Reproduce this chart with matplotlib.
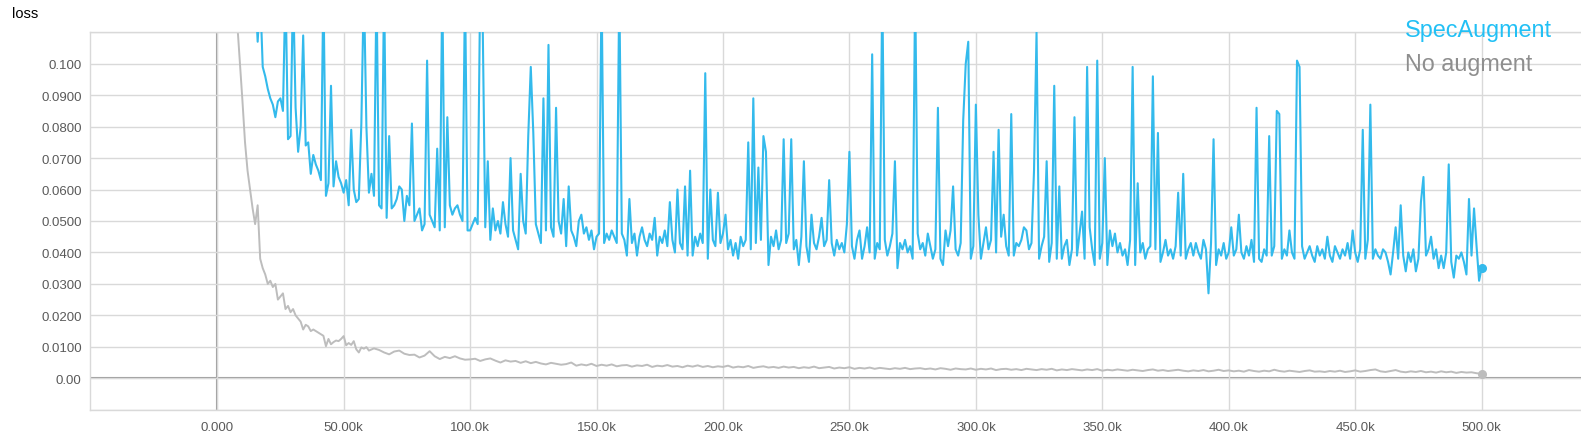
import numpy as np
import matplotlib.pyplot as plt
from matplotlib.patches import Circle

# === data
# SpecAugment: one value every 1k steps, from 15k to 500k
spec_first_step = 15000
spec_loss = [
    0.125, 0.107, 0.122, 0.099, 0.096, 0.092, 0.089, 0.087, 0.083, 0.088,
    0.089, 0.085, 0.125, 0.076, 0.077, 0.125, 0.086, 0.072, 0.080, 0.109,
    0.074, 0.075, 0.065, 0.071, 0.068, 0.066, 0.063, 0.125, 0.058, 0.062,
    0.093, 0.061, 0.069, 0.064, 0.062, 0.059, 0.063, 0.055, 0.079, 0.060,
    0.056, 0.057, 0.081, 0.125, 0.080, 0.059, 0.065, 0.058, 0.125, 0.055,
    0.054, 0.125, 0.051, 0.077, 0.054, 0.055, 0.057, 0.061, 0.060, 0.050,
    0.058, 0.055, 0.081, 0.050, 0.052, 0.054, 0.047, 0.049, 0.101, 0.052,
    0.050, 0.048, 0.073, 0.047, 0.125, 0.048, 0.083, 0.055, 0.052, 0.054,
    0.055, 0.052, 0.050, 0.125, 0.047, 0.047, 0.049, 0.051, 0.049, 0.125,
    0.112, 0.048, 0.069, 0.044, 0.054, 0.047, 0.050, 0.046, 0.056, 0.049,
    0.045, 0.070, 0.047, 0.044, 0.041, 0.065, 0.050, 0.046, 0.077, 0.099,
    0.078, 0.049, 0.046, 0.043, 0.089, 0.047, 0.106, 0.048, 0.045, 0.086,
    0.050, 0.046, 0.057, 0.042, 0.061, 0.047, 0.045, 0.042, 0.050, 0.052,
    0.046, 0.048, 0.044, 0.047, 0.041, 0.045, 0.046, 0.125, 0.043, 0.046,
    0.044, 0.047, 0.045, 0.043, 0.125, 0.046, 0.044, 0.039, 0.057, 0.043,
    0.046, 0.039, 0.045, 0.048, 0.044, 0.042, 0.046, 0.044, 0.051, 0.039,
    0.045, 0.043, 0.047, 0.042, 0.056, 0.044, 0.040, 0.060, 0.043, 0.041,
    0.061, 0.039, 0.066, 0.039, 0.045, 0.042, 0.046, 0.043, 0.097, 0.038,
    0.060, 0.044, 0.042, 0.059, 0.043, 0.046, 0.052, 0.041, 0.044, 0.039,
    0.043, 0.038, 0.045, 0.042, 0.044, 0.075, 0.041, 0.089, 0.043, 0.067,
    0.044, 0.077, 0.072, 0.036, 0.045, 0.042, 0.047, 0.041, 0.044, 0.076,
    0.043, 0.046, 0.076, 0.041, 0.044, 0.036, 0.045, 0.069, 0.042, 0.037,
    0.052, 0.043, 0.041, 0.045, 0.051, 0.042, 0.044, 0.063, 0.043, 0.039,
    0.044, 0.041, 0.043, 0.040, 0.049, 0.072, 0.042, 0.038, 0.044, 0.047,
    0.038, 0.042, 0.048, 0.040, 0.103, 0.038, 0.043, 0.041, 0.125, 0.044,
    0.039, 0.042, 0.046, 0.069, 0.035, 0.043, 0.041, 0.044, 0.040, 0.042,
    0.038, 0.125, 0.046, 0.041, 0.043, 0.039, 0.046, 0.042, 0.038, 0.041,
    0.086, 0.038, 0.036, 0.047, 0.042, 0.047, 0.061, 0.041, 0.039, 0.043,
    0.082, 0.100, 0.107, 0.038, 0.042, 0.087, 0.052, 0.038, 0.043, 0.048,
    0.041, 0.044, 0.072, 0.040, 0.079, 0.045, 0.052, 0.042, 0.039, 0.084,
    0.039, 0.043, 0.042, 0.044, 0.048, 0.047, 0.041, 0.043, 0.066, 0.110,
    0.038, 0.042, 0.045, 0.069, 0.037, 0.043, 0.093, 0.038, 0.061, 0.038,
    0.042, 0.044, 0.036, 0.041, 0.083, 0.039, 0.046, 0.053, 0.038, 0.099,
    0.048, 0.041, 0.036, 0.101, 0.038, 0.043, 0.070, 0.036, 0.047, 0.042,
    0.046, 0.040, 0.043, 0.039, 0.041, 0.036, 0.044, 0.099, 0.036, 0.062,
    0.040, 0.043, 0.038, 0.041, 0.042, 0.096, 0.041, 0.078, 0.037, 0.040,
    0.044, 0.039, 0.041, 0.038, 0.042, 0.059, 0.039, 0.065, 0.038, 0.041,
    0.043, 0.039, 0.043, 0.040, 0.038, 0.044, 0.041, 0.027, 0.043, 0.076,
    0.036, 0.041, 0.039, 0.043, 0.038, 0.040, 0.048, 0.039, 0.041, 0.052,
    0.040, 0.038, 0.042, 0.039, 0.044, 0.037, 0.086, 0.038, 0.037, 0.041,
    0.039, 0.077, 0.039, 0.042, 0.085, 0.084, 0.038, 0.041, 0.039, 0.047,
    0.040, 0.038, 0.101, 0.099, 0.042, 0.038, 0.040, 0.042, 0.039, 0.037,
    0.042, 0.039, 0.041, 0.038, 0.045, 0.039, 0.037, 0.042, 0.040, 0.038,
    0.041, 0.039, 0.043, 0.038, 0.047, 0.040, 0.037, 0.041, 0.079, 0.038,
    0.044, 0.087, 0.038, 0.041, 0.039, 0.038, 0.041, 0.040, 0.037, 0.033,
    0.040, 0.048, 0.038, 0.055, 0.039, 0.034, 0.040, 0.037, 0.041, 0.034,
    0.038, 0.056, 0.064, 0.039, 0.041, 0.045, 0.038, 0.041, 0.035, 0.039,
    0.035, 0.040, 0.068, 0.037, 0.032, 0.039, 0.038, 0.040, 0.037, 0.033,
    0.057, 0.039, 0.054, 0.042, 0.031, 0.035,
]

# No augment: every 1k steps from 7k to 60k, then every 2k steps up to 500k
noaug_loss_early = [
    0.140, 0.112, 0.100, 0.088, 0.075, 0.066, 0.060, 0.054, 0.049, 0.055,
    0.038, 0.035, 0.033, 0.030, 0.031, 0.029, 0.030, 0.025, 0.026, 0.027,
    0.022, 0.023, 0.021, 0.022, 0.020, 0.019, 0.018, 0.0155, 0.017, 0.0165,
    0.015, 0.0155, 0.015, 0.0145, 0.014, 0.0135, 0.0102, 0.0125, 0.0108, 0.0115,
    0.012, 0.0118, 0.0125, 0.0134, 0.0105, 0.0112, 0.0106, 0.0118, 0.0092, 0.0082,
    0.0098, 0.0094, 0.0099, 0.0088,
]
noaug_loss_late = [
    0.0095, 0.0090, 0.0082, 0.0076, 0.0085, 0.0088, 0.0078, 0.0074, 0.0075, 0.0066,
    0.0072, 0.0086, 0.0070, 0.0061, 0.0068, 0.0064, 0.0070, 0.0063, 0.0059, 0.0060,
    0.0062, 0.0055, 0.0060, 0.0063, 0.0056, 0.0050, 0.0057, 0.0053, 0.0055, 0.0049,
    0.0054, 0.0048, 0.0052, 0.0047, 0.0044, 0.0049, 0.0046, 0.0043, 0.0045, 0.0050,
    0.0040, 0.0044, 0.0041, 0.0046, 0.0039, 0.0043, 0.0040, 0.0044, 0.0038, 0.0041,
    0.0042, 0.0037, 0.0041, 0.0039, 0.0043, 0.0036, 0.0040, 0.0038, 0.0042, 0.0037,
    0.0039, 0.0035, 0.0040, 0.0037, 0.0041, 0.0036, 0.0039, 0.0035, 0.0038, 0.0036,
    0.0040, 0.0034, 0.0037, 0.0035, 0.0039, 0.0033, 0.0036, 0.0038, 0.0034, 0.0036,
    0.0033, 0.0037, 0.0034, 0.0036, 0.0032, 0.0035, 0.0033, 0.0037, 0.0032, 0.0034,
    0.0036, 0.0031, 0.0034, 0.0032, 0.0035, 0.0030, 0.0033, 0.0031, 0.0034, 0.0030,
    0.0033, 0.0031, 0.0029, 0.0032, 0.0030, 0.0033, 0.0029, 0.0031, 0.0032, 0.0029,
    0.0031, 0.0028, 0.0032, 0.0030, 0.0027, 0.0031, 0.0029, 0.0028, 0.0031, 0.0027,
    0.0030, 0.0028, 0.0031, 0.0026, 0.0029, 0.0030, 0.0027, 0.0029, 0.0026, 0.0030,
    0.0028, 0.0026, 0.0029, 0.0027, 0.0030, 0.0025, 0.0028, 0.0026, 0.0029, 0.0027,
    0.0025, 0.0028, 0.0026, 0.0029, 0.0024, 0.0027, 0.0025, 0.0028, 0.0026, 0.0024,
    0.0027, 0.0025, 0.0023, 0.0026, 0.0028, 0.0024, 0.0026, 0.0023, 0.0025, 0.0027,
    0.0024, 0.0022, 0.0025, 0.0023, 0.0026, 0.0022, 0.0024, 0.0027, 0.0023, 0.0025,
    0.0022, 0.0024, 0.0021, 0.0026, 0.0023, 0.0021, 0.0024, 0.0022, 0.0027, 0.0023,
    0.0021, 0.0024, 0.0022, 0.0020, 0.0023, 0.0025, 0.0021, 0.0022, 0.0020, 0.0023,
    0.0021, 0.0024, 0.0020, 0.0022, 0.0025, 0.0021, 0.0023, 0.0026, 0.0028, 0.0022,
    0.0020, 0.0023, 0.0026, 0.0021, 0.0019, 0.0022, 0.0020, 0.0023, 0.0019, 0.0021,
    0.0018, 0.0022, 0.0019, 0.0021, 0.0017, 0.0020, 0.0018, 0.0019, 0.0016, 0.0014,
]

x_ticks = [0, 50000, 100000, 150000, 200000, 250000, 300000, 350000, 400000, 450000, 500000]
x_labels = ["0.000", "50.00k", "100.0k", "150.0k", "200.0k", "250.0k",
            "300.0k", "350.0k", "400.0k", "450.0k", "500.0k"]
y_ticks = [-0.01, 0.0, 0.01, 0.02, 0.03, 0.04, 0.05, 0.06, 0.07, 0.08, 0.09, 0.10, 0.11]
y_labels = ["", "0.00", "0.0100", "0.0200", "0.0300", "0.0400", "0.0500",
            "0.0600", "0.0700", "0.0800", "0.0900", "0.100", ""]

series_names = ["SpecAugment", "No augment"]

# steps
spec_steps = spec_first_step + 1000 * np.arange(len(spec_loss))
noaug_steps = np.concatenate([7000 + 1000 * np.arange(len(noaug_loss_early)),
                              62000 + 2000 * np.arange(len(noaug_loss_late))])
noaug_loss = np.array(noaug_loss_early + noaug_loss_late)

# === figure
W, H = 1581, 435
fig = plt.figure(figsize=(W / 100, H / 100), dpi=100, facecolor="white")
plt.rcParams['font.family'] = ['Liberation Sans', 'DejaVu Sans']

left, right, top, bottom = 90, 1581, 33.3, 410.7
ax = fig.add_axes([left / W, 1 - bottom / H, (right - left) / W, (bottom - top) / H])
ax.set_xlim(-50300, 539300)
ax.set_ylim(-0.01, 0.11)

grid_c = "#d9d9d9"
ax.set_xticks(x_ticks)
ax.set_xticklabels(x_labels)
ax.set_yticks(y_ticks)
ax.set_yticklabels(y_labels)
ax.grid(True, color=grid_c, linewidth=1.0, zorder=0)
ax.tick_params(axis="y", length=0, labelsize=9.5, labelcolor="#5a5a5a", pad=6.0)
ax.tick_params(axis="x", length=0, labelsize=9.5, labelcolor="#5a5a5a", pad=8.0)
for side in ["left", "bottom", "top"]:
    ax.spines[side].set_color(grid_c)
    ax.spines[side].set_linewidth(1.0)
ax.spines["right"].set_visible(False)

# axes through the origin
ax.axvline(0, color="#9a9a9a", linewidth=1.5, zorder=1)
ax.axhline(0, color="#9a9a9a", linewidth=1.5, zorder=1)

blue = "#33baec"
gray = "#bdbdbd"
ax.plot(noaug_steps, noaug_loss, color=gray, linewidth=1.4, zorder=2)
ax.plot(spec_steps, spec_loss, color=blue, linewidth=1.5, zorder=3)
ax.plot(noaug_steps[-1], noaug_loss[-1], "o", color=gray, markersize=5.5, zorder=2)
ax.plot(spec_steps[-1], spec_loss[-1], "o", color=blue, markersize=5.5, zorder=3)

# title and legend text
fig.text(12 / W, 1 - 18 / H, "loss", fontsize=10.5, color="black", va="baseline")
fig.text(1405 / W, 1 - 37.3 / H, series_names[0], fontsize=16.8, color="#22c0f5", va="baseline")
fig.text(1405 / W, 1 - 70.7 / H, series_names[1], fontsize=16.8, color="#8e8e8e", va="baseline")

# faint UI circle cut off at bottom left
fig.patches.append(Circle((27 / W, -12 / H), 17 / W, transform=fig.transFigure,
                          facecolor="#f0f0f0", edgecolor="none"))

plt.savefig("out.png", dpi=100, facecolor="white")
